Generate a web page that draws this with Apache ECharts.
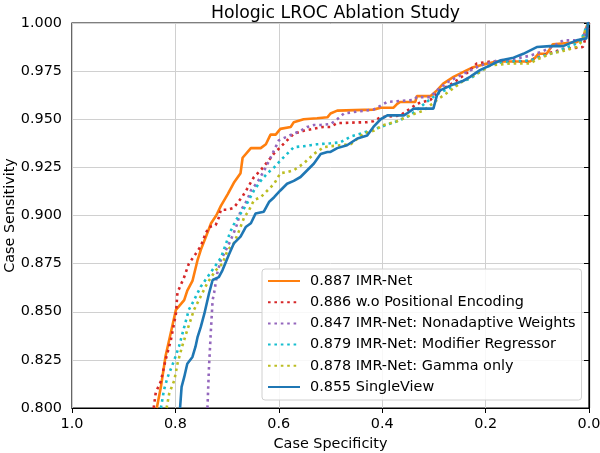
<!DOCTYPE html>
<html>
<head>
<meta charset="utf-8">
<script src="https://cdn.jsdelivr.net/npm/echarts@6/dist/echarts.min.js"></script>
<style>
html,body{margin:0;padding:0;background:#fff;}
#chart{width:600px;height:453px;}
</style>
</head>
<body>
<div id="chart"></div>
<script>
// ---- Data (specificity, sensitivity) ----
const seriesNames = [
  "0.887 IMR-Net",
  "0.886 w.o Positional Encoding",
  "0.847 IMR-Net: Nonadaptive Weights",
  "0.879 IMR-Net: Modifier Regressor",
  "0.878 IMR-Net: Gamma only",
  "0.855 SingleView"
];

const imrNetSpec = [0.836,0.828,0.819,0.809,0.799,0.783,0.777,0.767,0.757,0.751,0.738,0.731,0.721,0.712,0.699,0.687,0.674,0.670,0.654,0.635,0.625,0.616,0.606,0.597,0.577,0.571,0.552,0.526,0.506,0.500,0.487,0.417,0.403,0.378,0.371,0.365,0.336,0.333,0.307,0.294,0.282,0.262,0.236,0.224,0.204,0.178,0.114,0.104,0.098,0.082,0.073,0.070,0.024,0.012,0.005,0.000];
const imrNetSens = [0.800,0.811,0.827,0.839,0.851,0.856,0.861,0.866,0.877,0.882,0.891,0.896,0.900,0.905,0.911,0.917,0.922,0.930,0.935,0.935,0.937,0.942,0.942,0.945,0.946,0.9485,0.950,0.9505,0.951,0.953,0.9545,0.955,0.956,0.956,0.958,0.959,0.959,0.962,0.962,0.965,0.9685,0.972,0.9755,0.977,0.9785,0.980,0.980,0.982,0.984,0.984,0.9875,0.989,0.990,0.992,0.998,1.0];

const woPESpec = [0.842,0.838,0.828,0.819,0.809,0.799,0.796,0.783,0.774,0.761,0.751,0.741,0.735,0.722,0.716,0.712,0.699,0.687,0.670,0.661,0.648,0.635,0.620,0.610,0.597,0.584,0.571,0.552,0.533,0.514,0.500,0.487,0.429,0.417,0.403,0.365,0.346,0.333,0.307,0.288,0.262,0.236,0.217,0.191,0.120,0.101,0.075,0.050,0.012,0.008,0.005,0.000];
const woPESens = [0.800,0.808,0.814,0.825,0.835,0.849,0.860,0.868,0.875,0.880,0.884,0.891,0.894,0.895,0.899,0.903,0.903,0.904,0.910,0.914,0.920,0.9235,0.9285,0.932,0.9355,0.939,0.9425,0.944,0.945,0.946,0.946,0.948,0.9485,0.949,0.951,0.952,0.9555,0.958,0.960,0.965,0.969,0.974,0.979,0.980,0.980,0.982,0.9845,0.9865,0.9875,0.991,0.993,1.0];

const nonadaptSpec = [0.738,0.735,0.731,0.728,0.725,0.719,0.712,0.706,0.696,0.687,0.680,0.674,0.661,0.654,0.642,0.629,0.616,0.600,0.584,0.571,0.558,0.545,0.532,0.519,0.500,0.487,0.474,0.448,0.417,0.390,0.339,0.333,0.307,0.294,0.275,0.255,0.236,0.217,0.198,0.178,0.152,0.114,0.088,0.062,0.050,0.017,0.008,0.002,0.000];
const nonadaptSens = [0.800,0.8215,0.842,0.856,0.860,0.870,0.877,0.880,0.8855,0.891,0.896,0.9025,0.908,0.913,0.917,0.923,0.930,0.939,0.941,0.9425,0.944,0.946,0.947,0.947,0.9475,0.950,0.953,0.954,0.955,0.959,0.960,0.9615,0.9615,0.965,0.969,0.972,0.9745,0.977,0.979,0.9805,0.981,0.983,0.9855,0.989,0.991,0.991,0.9945,1.0,1.0];

const modRegSpec = [0.828,0.822,0.815,0.802,0.793,0.783,0.774,0.764,0.751,0.738,0.725,0.712,0.702,0.693,0.683,0.670,0.661,0.648,0.635,0.622,0.609,0.597,0.584,0.571,0.552,0.539,0.526,0.500,0.481,0.461,0.436,0.403,0.371,0.346,0.314,0.294,0.268,0.243,0.230,0.204,0.185,0.152,0.114,0.088,0.062,0.037,0.017,0.005,0.000];
const modRegSens = [0.800,0.8095,0.816,0.825,0.832,0.842,0.851,0.856,0.863,0.868,0.873,0.878,0.8855,0.892,0.8975,0.9025,0.9065,0.913,0.918,0.922,0.925,0.9285,0.932,0.9355,0.936,0.9365,0.937,0.9375,0.938,0.941,0.943,0.946,0.949,0.952,0.959,0.963,0.9665,0.970,0.971,0.976,0.979,0.980,0.9805,0.983,0.985,0.988,0.990,0.998,1.0];

const gammaSpec = [0.817,0.812,0.802,0.796,0.787,0.777,0.764,0.751,0.738,0.722,0.709,0.699,0.687,0.677,0.667,0.658,0.648,0.635,0.622,0.609,0.597,0.584,0.571,0.552,0.532,0.513,0.500,0.461,0.436,0.417,0.397,0.371,0.346,0.320,0.294,0.268,0.243,0.217,0.191,0.152,0.114,0.101,0.075,0.050,0.024,0.012,0.005,0.000];
const gammaSens = [0.800,0.8075,0.8145,0.823,0.832,0.8405,0.851,0.858,0.865,0.8715,0.875,0.882,0.8855,0.892,0.899,0.9025,0.908,0.9095,0.913,0.9165,0.922,0.9225,0.9235,0.927,0.932,0.9355,0.936,0.937,0.9425,0.944,0.947,0.949,0.952,0.9545,0.960,0.965,0.970,0.9735,0.978,0.979,0.979,0.981,0.984,0.9855,0.9875,0.991,0.998,1.0];

const singleSpec = [0.791,0.788,0.783,0.777,0.767,0.761,0.757,0.751,0.744,0.735,0.728,0.716,0.709,0.696,0.687,0.674,0.664,0.654,0.645,0.629,0.619,0.609,0.597,0.584,0.571,0.558,0.545,0.532,0.519,0.506,0.500,0.487,0.468,0.448,0.429,0.417,0.403,0.390,0.358,0.352,0.339,0.301,0.294,0.288,0.268,0.243,0.230,0.211,0.191,0.172,0.146,0.127,0.101,0.075,0.050,0.024,0.005,0.002,0.000];
const singleSens = [0.800,0.811,0.816,0.823,0.8265,0.832,0.837,0.842,0.849,0.8595,0.8665,0.868,0.8715,0.880,0.8855,0.889,0.894,0.896,0.901,0.902,0.907,0.9095,0.913,0.9165,0.918,0.920,0.9235,0.927,0.932,0.933,0.933,0.935,0.9365,0.940,0.9415,0.946,0.950,0.952,0.952,0.953,0.9555,0.9555,0.9625,0.965,0.9675,0.970,0.972,0.9755,0.978,0.9805,0.982,0.984,0.9875,0.988,0.988,0.991,0.992,1.0,1.0];

const xTicks = [0.0, 0.2, 0.4, 0.6, 0.8, 1.0];
const yTicks = [0.800, 0.825, 0.850, 0.875, 0.900, 0.925, 0.950, 0.975, 1.000];

// ---- Build ----
const specs = [imrNetSpec, woPESpec, nonadaptSpec, modRegSpec, gammaSpec, singleSpec];
const senss = [imrNetSens, woPESens, nonadaptSens, modRegSens, gammaSens, singleSens];
const colors = ['#ff7f0e', '#d62728', '#9467bd', '#17becf', '#bcbd22', '#1f77b4'];
const dashes = ['solid', [2.6, 3.8], [2.6, 3.8], [2.6, 3.8], [2.6, 3.8], 'solid'];

function zip(a, b) { return a.map((v, i) => [v, b[i]]); }

const FONT = 'DejaVu Sans';
const FS = 14.4;
const series = seriesNames.map((name, i) => ({
  name: name,
  type: 'line',
  data: zip(specs[i], senss[i]),
  symbol: 'none',
  showSymbol: false,
  clip: true,
  animation: false,
  lineStyle: { color: colors[i], width: 2.6, type: dashes[i], cap: 'butt' },
  itemStyle: { color: colors[i], opacity: 0 },
  z: 2 + i
}));

const chart = echarts.init(document.getElementById('chart'), null, { renderer: 'canvas' });
chart.setOption({
  animation: false,
  backgroundColor: '#ffffff',
  textStyle: { fontFamily: FONT },
  title: {
    text: 'Hologic LROC Ablation Study',
    left: 330.5,
    top: 0,
    textAlign: 'center',
    textStyle: { fontFamily: FONT, fontSize: 17.3, fontWeight: 'normal', color: '#000' }
  },
  grid: {
    left: 72, right: 11, top: 23, bottom: 45,
    outerBoundsMode: 'none',
    containLabel: false,
    show: true, borderColor: '#000', borderWidth: 1.2, backgroundColor: 'transparent'
  },
  legend: {
    orient: 'vertical',
    left: 262,
    top: 269,
    padding: [5, 6, 6, 5],
    itemWidth: 32,
    itemHeight: 14,
    itemGap: 7.2,
    backgroundColor: 'rgba(255,255,255,0.85)',
    borderColor: '#d0d0d0',
    borderWidth: 1,
    borderRadius: 3,
    itemStyle: { opacity: 0 },
    textStyle: { fontFamily: FONT, fontSize: FS, color: '#000', padding: [0, 0, 0, 5] },
    data: seriesNames
  },
  xAxis: {
    type: 'value',
    inverse: true,
    min: 0, max: 1, interval: 0.2,
    name: 'Case Specificity',
    nameLocation: 'middle',
    nameGap: 29,
    nameMoveOverlap: false,
    nameTextStyle: { fontFamily: FONT, fontSize: FS, color: '#000' },
    axisLine: { show: true, lineStyle: { color: '#000', width: 1.2 } },
    axisTick: { show: true, length: 5, lineStyle: { color: '#000', width: 1 } },
    axisLabel: { fontFamily: FONT, fontSize: FS, color: '#000', margin: 9,
      formatter: v => xTicks.find(t => Math.abs(t - v) < 1e-6).toFixed(1) },
    splitLine: { show: true, lineStyle: { color: '#d0d0d0', width: 1 } }
  },
  yAxis: {
    type: 'value',
    min: 0.8, max: 1.0, interval: 0.025,
    name: 'Case Sensitivity',
    nameLocation: 'middle',
    nameGap: 55,
    nameMoveOverlap: false,
    nameTextStyle: { fontFamily: FONT, fontSize: FS, color: '#000' },
    axisLine: { show: true, lineStyle: { color: '#000', width: 1.2 } },
    axisTick: { show: true, length: 5, lineStyle: { color: '#000', width: 1 } },
    axisLabel: { fontFamily: FONT, fontSize: FS, color: '#000', margin: 10,
      formatter: v => { const t = yTicks.find(t => Math.abs(t - v) < 1e-6); return (t === undefined ? v : t).toFixed(3); } },
    splitLine: { show: true, lineStyle: { color: '#d0d0d0', width: 1 } }
  },
  series: series
});
</script>
</body>
</html>
